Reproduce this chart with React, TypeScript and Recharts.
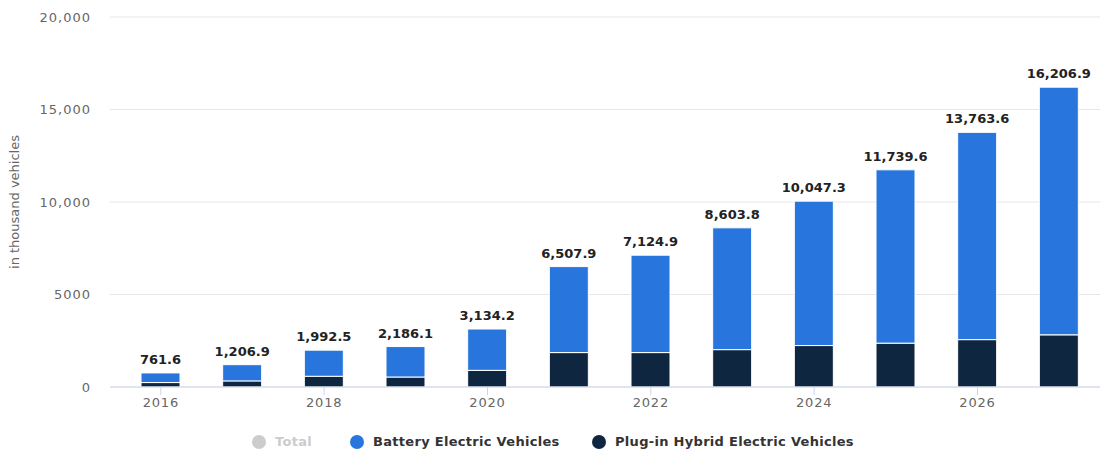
import { Bar, BarChart, CartesianGrid, LabelList, XAxis, YAxis } from "recharts";

const years = ["2016", "2017", "2018", "2019", "2020", "2021", "2022", "2023", "2024", "2025", "2026", "2027"];
const totals = [761.6, 1206.9, 1992.5, 2186.1, 3134.2, 6507.9, 7124.9, 8603.8, 10047.3, 11739.6, 13763.6, 16206.9];
const phev = [240, 330, 580, 540, 900, 1860, 1860, 2020, 2240, 2370, 2560, 2820];
const yTicks = [0, 5000, 10000, 15000, 20000];

const legendItems = [
  { name: "Total", color: "#cccccc", muted: true },
  { name: "Battery Electric Vehicles", color: "#2876dd", muted: false },
  { name: "Plug-in Hybrid Electric Vehicles", color: "#0f2640", muted: false },
];
// left edge of each legend symbol
const legendLefts = [252, 350, 592];

const BEV_COLOR = "#2876dd";
const PHEV_COLOR = "#0f2640";
const FONT = "'DejaVu Sans', sans-serif";

const data = years.map((year, i) => ({
  year,
  phev: phev[i],
  bev: Math.round((totals[i] - phev[i]) * 10) / 10,
  total: totals[i],
}));

const fmtTick = (v: number) => (v >= 10000 ? v.toLocaleString("en-US") : String(v));
const fmtTotal = (v: number) =>
  v.toLocaleString("en-US", { minimumFractionDigits: 1, maximumFractionDigits: 1 });

function TotalLabel(props: any) {
  const { x, y, width, index } = props;
  const total = totals[index];
  if (total == null) return null;
  return (
    <text
      x={Number(x) + Number(width) / 2}
      y={Number(y) - 9}
      textAnchor="middle"
      fontFamily={FONT}
      fontWeight="bold"
      fontSize={13}
      fill="#222"
    >
      {fmtTotal(total)}
    </text>
  );
}

export default function App() {
  return (
    <div style={{ position: "absolute", top: 0, left: 0, width: 1106, height: 451, background: "#fff" }}>
      <BarChart
        width={1106}
        height={420}
        data={data}
        margin={{ top: 17, right: 6, left: 0, bottom: 0 }}
        barSize={39}
      >
        <CartesianGrid vertical={false} stroke="#e6e6e6" />
        <XAxis
          dataKey="year"
          interval={1}
          height={33}
          padding={{ left: 10, right: 0 }}
          axisLine={{ stroke: "#ccd6eb" }}
          tickLine={{ stroke: "#ccd6eb" }}
          tickSize={8}
          tickMargin={3}
          tick={{ fill: "#666", fontSize: 13, fontFamily: FONT, letterSpacing: 0.8 }}
        />
        <YAxis
          width={110}
          domain={[0, 20000]}
          ticks={yTicks}
          tickFormatter={fmtTick}
          axisLine={false}
          tickLine={false}
          tickSize={0}
          tickMargin={19}
          tick={{ fill: "#666", fontSize: 13, fontFamily: FONT, letterSpacing: 1 }}
          label={{
            value: "in thousand vehicles",
            angle: -90,
            position: "insideLeft",
            offset: 14,
            style: { fill: "#666", fontSize: 13, fontFamily: FONT, textAnchor: "middle" },
          }}
        />
        <Bar dataKey="phev" stackId="ev" fill={PHEV_COLOR} stroke="#fff" strokeWidth={1} isAnimationActive={false} />
        <Bar dataKey="bev" stackId="ev" fill={BEV_COLOR} stroke="#fff" strokeWidth={1} isAnimationActive={false}>
          <LabelList dataKey="total" content={TotalLabel} />
        </Bar>
      </BarChart>
      {legendItems.map((item, i) => (
        <div
          key={item.name}
          style={{
            position: "absolute",
            top: 434,
            left: legendLefts[i],
            display: "flex",
            alignItems: "center",
            whiteSpace: "nowrap",
            fontFamily: FONT,
            fontSize: 13,
            fontWeight: "bold",
            letterSpacing: 0.3,
            color: item.muted ? "#cccccc" : "#333",
          }}
        >
          <span
            style={{
              display: "inline-block",
              width: 14,
              height: 14,
              borderRadius: 7,
              background: item.color,
              marginRight: 9,
            }}
          />
          {item.name}
        </div>
      ))}
    </div>
  );
}
